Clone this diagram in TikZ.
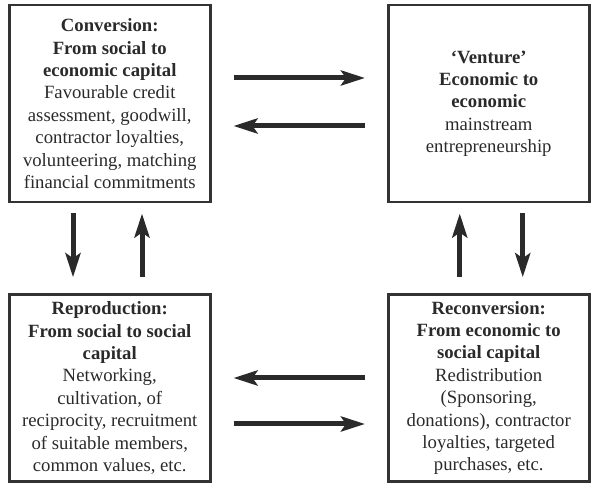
\documentclass[tikz,border=0pt]{standalone}
\usepackage{fontspec}
\setmainfont{Liberation Serif}
\usetikzlibrary{arrows.meta}
\definecolor{txt}{HTML}{2A2A2A}
\definecolor{frame}{HTML}{333333}
\begin{document}
\begin{tikzpicture}[x=1pt,y=1pt,
  box/.style={draw=frame,line width=2.5pt,inner sep=0pt,minimum width=201pt,
    align=center,text=txt,font=\fontsize{18.7}{22.4}\selectfont},
  arr/.style={draw=txt,line width=5pt,-{Stealth[length=24pt,width=15pt,inset=5pt]}}]
\useasboundingbox (0,0) rectangle (595,494);
\node[box,minimum height=197pt] (tl) at (109.75,390.25)
  {\textbf{Conversion:}\\\textbf{From social to}\\\textbf{economic capital}\\Favourable credit\\assessment, goodwill,\\contractor loyalties,\\volunteering, matching\\financial commitments};
\node[box,minimum height=197pt] (tr) at (488.75,390.25)
  {\textbf{‘Venture’}\\\textbf{Economic to}\\\textbf{economic}\\mainstream\\entrepreneurship};
\node[box,minimum height=187pt] (bl) at (109.75,106)
  {\textbf{Reproduction:}\\\textbf{From social to social}\\\textbf{capital}\\Networking,\\cultivation, of\\reciprocity, recruitment\\of suitable members,\\common values, etc.};
\node[box,minimum height=187pt] (br) at (488.75,106)
  {\textbf{Reconversion:}\\\textbf{From economic to}\\\textbf{social capital}\\Redistribution\\(Sponsoring,\\donations), contractor\\loyalties, targeted\\purchases, etc.};
% horizontal arrows
\draw[arr] ([xshift=22pt,yshift=25.75pt]tl.east) -- ([xshift=-22pt,yshift=25.75pt]tr.west);
\draw[arr] ([xshift=-22pt,yshift=-22.25pt]tr.west) -- ([xshift=22pt,yshift=-22.25pt]tl.east);
\draw[arr] ([xshift=-22pt,yshift=10pt]br.west) -- ([xshift=22pt,yshift=10pt]bl.east);
\draw[arr] ([xshift=22pt,yshift=-36pt]bl.east) -- ([xshift=-22pt,yshift=-36pt]br.west);
% vertical arrows
\draw[arr] ([xshift=-36.75pt,yshift=-10pt]tl.south) -- ([xshift=-36.75pt,yshift=16pt]bl.north);
\draw[arr] ([xshift=32.25pt,yshift=16pt]bl.north) -- ([xshift=32.25pt,yshift=-10pt]tl.south);
\draw[arr] ([xshift=-29pt,yshift=16pt]br.north) -- ([xshift=-29pt,yshift=-10pt]tr.south);
\draw[arr] ([xshift=34pt,yshift=-10pt]tr.south) -- ([xshift=34pt,yshift=16pt]br.north);
\end{tikzpicture}
\end{document}
